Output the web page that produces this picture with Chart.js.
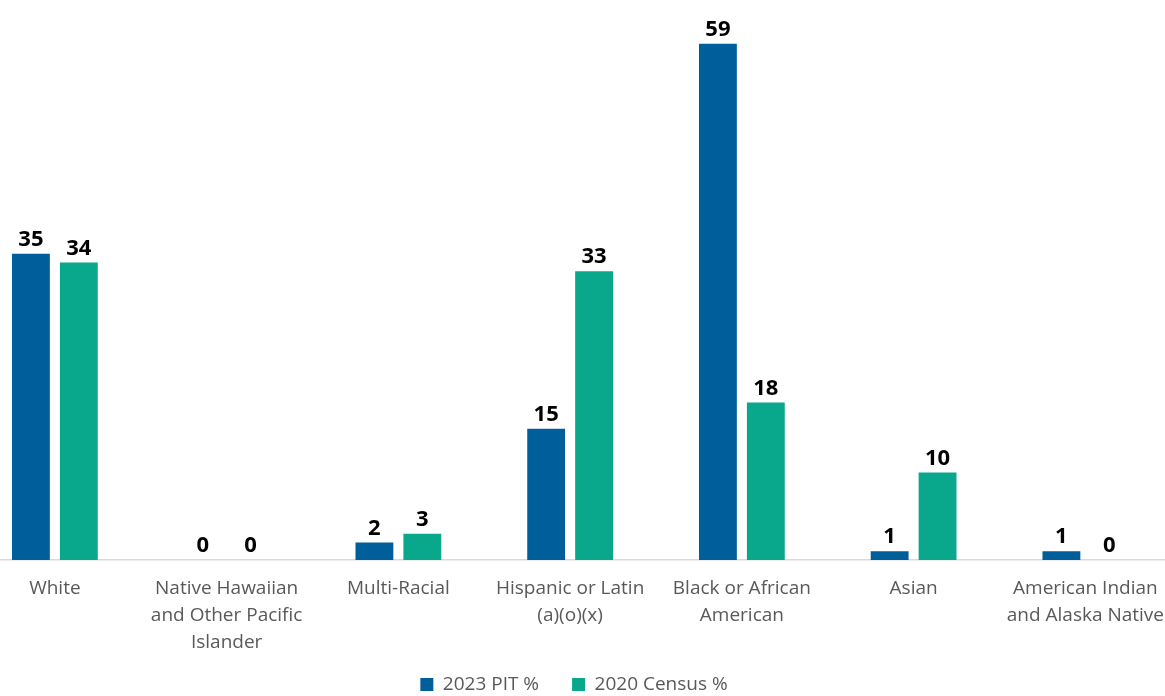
<!DOCTYPE html>
<html>
<head>
<meta charset="utf-8">
<script src="https://cdn.jsdelivr.net/npm/chart.js@4"></script>
<style>
  html, body { margin: 0; padding: 0; background: #fff; overflow: hidden; }
  #wrap { position: absolute; left: -31px; top: 0; width: 1210px; height: 696px; }
</style>
</head>
<body>
<div id="wrap"><canvas id="c"></canvas></div>
<script>
const categories = [
  ['White'],
  ['Native Hawaiian', 'and Other Pacific', 'Islander'],
  ['Multi-Racial'],
  ['Hispanic or Latin', '(a)(o)(x)'],
  ['Black or African', 'American'],
  ['Asian'],
  ['American Indian', 'and Alaska Native']
];
const pit2023 = [35, 0, 2, 15, 59, 1, 1];
const census2020 = [34, 0, 3, 33, 18, 10, 0];
const seriesNames = ['2023 PIT %', '2020 Census %'];

const valueLabels = {
  id: 'valueLabels',
  afterDatasetsDraw(chart) {
    const ctx = chart.ctx;
    ctx.save();
    ctx.font = 'bold 22px "Open Sans"';
    ctx.fillStyle = '#000';
    ctx.textAlign = 'center';
    ctx.textBaseline = 'alphabetic';
    chart.data.datasets.forEach((ds, i) => {
      chart.getDatasetMeta(i).data.forEach((bar, j) => {
        ctx.fillText(String(ds.data[j]), bar.x, bar.y - 8);
      });
    });
    ctx.restore();
  }
};

// pull the legend block up a little so it sits closer to the axis labels
const legendNudge = {
  id: 'legendNudge',
  afterLayout(chart) {
    const l = chart.legend;
    if (l) { l.top -= 13; l.bottom -= 13; }
  }
};

new Chart(document.getElementById('c'), {
  type: 'bar',
  data: {
    labels: categories,
    datasets: [
      { label: seriesNames[0], data: pit2023, backgroundColor: '#005F9B' },
      { label: seriesNames[1], data: census2020, backgroundColor: '#09A88D' }
    ]
  },
  options: {
    responsive: true,
    maintainAspectRatio: false,
    animation: false,
    layout: { padding: { top: 0, bottom: -21, left: 0, right: 0 } },
    datasets: { bar: { categoryPercentage: 0.558, barPercentage: 0.79 } },
    plugins: {
      tooltip: { enabled: false },
      legend: {
        position: 'bottom',
        labels: {
          font: { family: '"Open Sans"', size: 19 },
          color: '#595959',
          boxWidth: 13,
          boxHeight: 13,
          padding: 33
        }
      }
    },
    scales: {
      x: {
        grid: { display: false, drawTicks: false },
        border: { display: true, color: '#D9D9D9', width: 1.5 },
        ticks: {
          color: '#595959',
          font: { family: '"Open Sans"', size: 19, lineHeight: 1.42 },
          padding: 15,
          maxRotation: 0,
          autoSkip: false
        },
        afterFit(scale) { scale.height = 95; }
      },
      y: {
        display: false,
        min: 0,
        max: 64
      }
    }
  },
  plugins: [valueLabels, legendNudge]
});
</script>
</body>
</html>
